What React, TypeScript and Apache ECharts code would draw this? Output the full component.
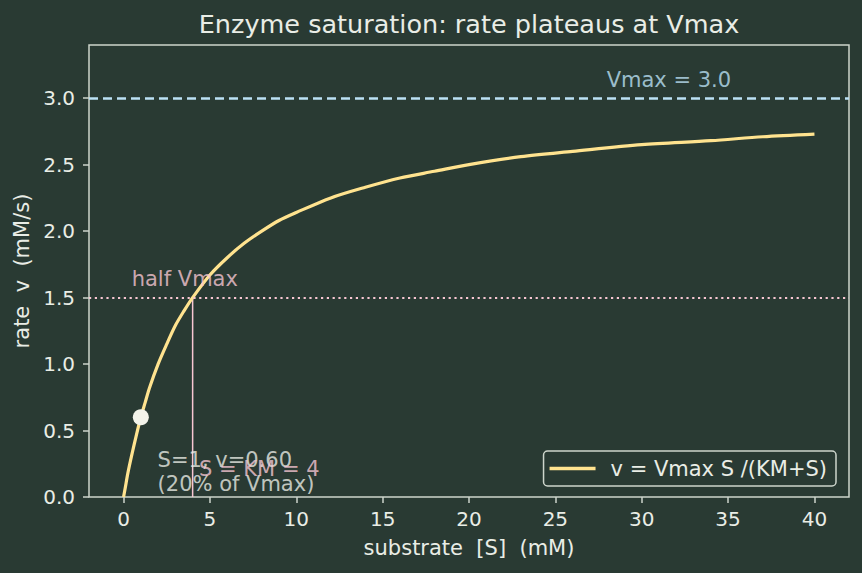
import React, { useEffect, useRef } from "react";
import * as echarts from "echarts";

// Michaelis–Menten saturation curve: substrate [S] (mM) vs rate v (mM/s)
const substrate = [0, 0.1, 0.25, 0.5, 0.75, 1, 1.25, 1.5, 2, 2.5, 3, 3.5, 4, 5, 6, 7, 8, 9, 10, 12, 14, 16, 18, 20, 23, 26, 30, 34, 37, 40];
const rate = [0, 0.07, 0.18, 0.33, 0.47, 0.6, 0.71, 0.82, 1.0, 1.15, 1.29, 1.4, 1.5, 1.67, 1.8, 1.91, 2.0, 2.08, 2.14, 2.25, 2.33, 2.4, 2.45, 2.5, 2.56, 2.6, 2.65, 2.68, 2.71, 2.73];

const vmax = 3.0;
const km = 4;
const halfVmax = 1.5;
const highlightPoint = [1, 0.6];

const xTicks = [0, 5, 10, 15, 20, 25, 30, 35, 40];
const yTicks = [0, 0.5, 1.0, 1.5, 2.0, 2.5, 3.0];

const BG = "#293a33";
const FG = "#e9ede6";
const SPINE = "#cdd5cc";
const CURVE = "#ffe38f";
const BLUE = "#bbe1f5";
const PINK = "#f7c6d2";
const FONT = "DejaVu Sans";
const TICK_SIZE = 20;
const TEXT_SIZE = 21;

function textPoint(pos: number[], text: string, color: string, lineHeight = 23) {
  return {
    type: "scatter",
    data: [pos],
    symbolSize: 1,
    itemStyle: { color: "transparent" },
    silent: true,
    z: 5,
    label: {
      show: true,
      position: [0, 0],
      align: "left",
      verticalAlign: "bottom",
      formatter: text,
      color,
      fontFamily: FONT,
      fontSize: TEXT_SIZE,
      lineHeight,
    },
  };
}

export default function App() {
  const ref = useRef<HTMLDivElement>(null);

  useEffect(() => {
    if (!ref.current) return;
    const chart = echarts.init(ref.current, null, { renderer: "svg" });
    const curve = substrate.map((s, i) => [s, rate[i]]);

    chart.setOption({
      animation: false,
      backgroundColor: BG,
      title: {
        text: "Enzyme saturation: rate plateaus at Vmax",
        left: 464,
        textAlign: "center",
        top: 6,
        textStyle: { color: FG, fontFamily: FONT, fontSize: 25.5, fontWeight: "normal" },
      },
      grid: {
        left: 89,
        right: 13,
        top: 45,
        bottom: 76,
        show: true,
        backgroundColor: BG,
        borderColor: SPINE,
        borderWidth: 1.5,
      },
      legend: {
        data: [{ name: "v = Vmax S /(KM+S)", icon: "rect" }],
        right: 26,
        bottom: 87,
        itemWidth: 46,
        itemHeight: 3.5,
        padding: [7, 9, 7, 6],
        backgroundColor: BG,
        borderColor: SPINE,
        borderWidth: 1.5,
        borderRadius: 4,
        textStyle: { color: FG, fontFamily: FONT, fontSize: TEXT_SIZE, padding: [0, 0, 0, 10] },
      },
      xAxis: {
        type: "value",
        min: -2,
        max: 42,
        name: "substrate  [S]  (mM)",
        nameLocation: "middle",
        nameGap: 40,
        nameTextStyle: { color: FG, fontFamily: FONT, fontSize: TEXT_SIZE },
        axisLine: { show: false, onZero: false },
        splitLine: { show: false },
        axisTick: {
          show: true,
          inside: false,
          length: 6,
          lineStyle: { color: SPINE, width: 1.5 },
          customValues: xTicks,
        },
        axisLabel: {
          color: FG,
          fontFamily: FONT,
          fontSize: TICK_SIZE,
          margin: 12,
          customValues: xTicks,
          formatter: (v: number) => String(v),
        },
      },
      yAxis: {
        type: "value",
        min: 0,
        max: 3.4,
        name: "rate  v  (mM/s)",
        nameLocation: "middle",
        nameGap: 54,
        nameRotate: 90,
        nameTextStyle: { color: FG, fontFamily: FONT, fontSize: TEXT_SIZE },
        axisLine: { show: false, onZero: false },
        splitLine: { show: false },
        axisTick: {
          show: true,
          inside: false,
          length: 6,
          lineStyle: { color: SPINE, width: 1.5 },
          customValues: yTicks,
        },
        axisLabel: {
          color: FG,
          fontFamily: FONT,
          fontSize: TICK_SIZE,
          margin: 14,
          customValues: yTicks,
          formatter: (v: number) => v.toFixed(1),
        },
      },
      series: [
        {
          name: "reference lines",
          type: "line",
          data: [],
          markLine: {
            silent: true,
            symbol: "none",
            label: { show: false },
            data: [
              { yAxis: vmax, lineStyle: { color: BLUE, width: 2.5, type: [9, 5] } },
              { yAxis: halfVmax, lineStyle: { color: PINK, width: 2.2, type: [2.2, 3.6] } },
            ],
          },
        },
        {
          name: "km marker",
          type: "line",
          data: [[km, 0], [km, halfVmax]],
          symbol: "none",
          lineStyle: { color: PINK, width: 1.5 },
          z: 3,
        },
        {
          name: "v = Vmax S /(KM+S)",
          type: "line",
          data: curve,
          smooth: 0.3,
          symbol: "none",
          lineStyle: { color: CURVE, width: 3.2 },
          itemStyle: { color: CURVE },
          z: 4,
        },
        {
          name: "highlight",
          type: "scatter",
          data: [highlightPoint],
          symbol: "circle",
          symbolSize: 16,
          itemStyle: { color: "#f3f3ea", opacity: 1 },
          z: 6,
        },
        textPoint([0.5, 1.55], "half Vmax", PINK),
        textPoint([28, 3.05], "Vmax = 3.0", BLUE),
        textPoint([2, 0.005], "S=1, v=0.60\n(20% of Vmax)", FG, 24),
        textPoint([4.4, 0.12], "S = KM = 4", PINK),
      ],
    });

    return () => chart.dispose();
  }, []);

  return <div ref={ref} style={{ position: "fixed", left: 0, top: 0, width: 862, height: 573 }} />;
}
